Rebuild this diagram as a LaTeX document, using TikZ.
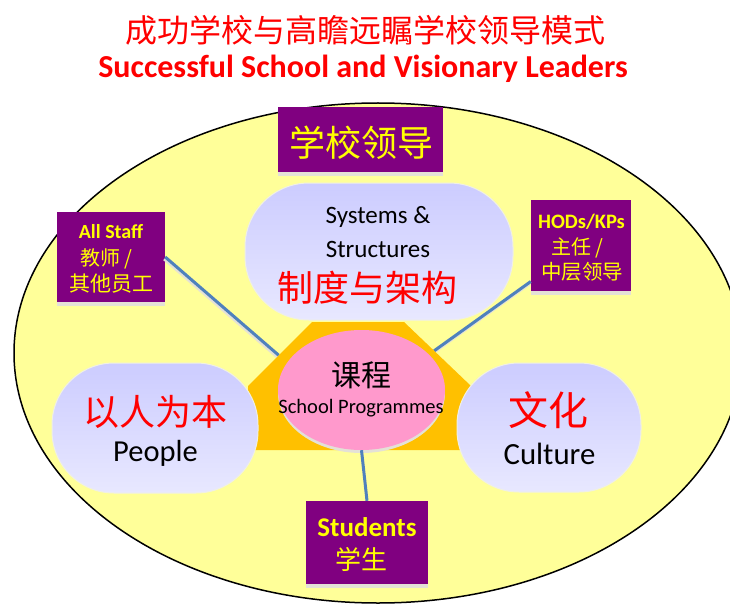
\documentclass[tikz,border=0pt]{standalone}
\usepackage{fontspec}
\setmainfont{Carlito}
\newfontfamily\cjk{Noto Sans CJK SC}
\usetikzlibrary{shapes.geometric,calc,shadows}

\definecolor{titlered}{HTML}{FF0000}
\definecolor{outeryellow}{HTML}{FFFF99}
\definecolor{leadpurple}{HTML}{800080}
\definecolor{labelyellow}{HTML}{FFFF00}
\definecolor{lavtop}{HTML}{CCCCFF}
\definecolor{lavbot}{HTML}{E8E8FF}
\definecolor{lavedge}{HTML}{F0F0E4}
\definecolor{coreorange}{HTML}{FFC000}
\definecolor{corepink}{HTML}{FF99CC}
\definecolor{linkblue}{HTML}{4F81BD}
\definecolor{softshadow}{HTML}{E4E1D6}

\tikzset{
  purplebox/.style={fill=leadpurple, inner sep=0pt,
    drop shadow={shadow xshift=0pt, shadow yshift=-4pt, fill=softshadow, opacity=1}},
  lavbox/.style={top color=lavtop, bottom color=lavbot, draw=lavedge,
    line width=1pt, inner sep=0pt},
  txt/.style={inner sep=0pt, anchor=base},
  link/.style={draw=linkblue, line width=3pt},
  linkshade/.style={draw=softshadow, line width=3pt},
}

\begin{document}
\begin{tikzpicture}[x=1pt, y=-1pt]
  \useasboundingbox (0,0) rectangle (730,604);
  \fill[white] (0,0) rectangle (730,604);
  \clip (0,0) rectangle (730,604);

  % titles
  \node[txt, text=titlered, font=\cjk\fontsize{32}{36}\selectfont] (title) at (365,43)
    {成功学校与高瞻远瞩学校领导模式};
  \node[txt, text=titlered, font=\bfseries\fontsize{32}{36}\selectfont] (subtitle) at (363,78)
    {Successful School and Visionary Leaders};

  % outer ellipse
  \draw[fill=outeryellow, line width=1.5pt] (378,353) ellipse [x radius=364, y radius=250];

  % outer label boxes
  \node[purplebox, minimum width=165pt, minimum height=65pt] (lead) at (360.5,139.5) {};
  \node[purplebox, minimum width=108pt, minimum height=90pt] (staff) at (111,257) {};
  \node[purplebox, minimum width=100pt, minimum height=91pt] (hod) at (581,245.5) {};
  \node[purplebox, minimum width=122pt, minimum height=83pt] (students) at (367,542.5) {};

  % core shape corners
  \coordinate (oTL) at (312,322);
  \coordinate (oTR) at (404,322);
  \coordinate (oR)  at (471,386);
  \coordinate (oBR) at (471,450);
  \coordinate (oBL) at (248,450);
  \coordinate (oL)  at (248,386);
  \coordinate (staffend) at ($(oTL)!0.52!(oL)$);
  \coordinate (hodend) at ($(oTR)!0.45!(oR)$);

  % connectors
  \draw[linkshade] ([shift={(-1,2)}]staff.east) -- ([shift={(-1,2)}]staffend);
  \draw[link] (staff.east) -- (staffend);
  \draw[linkshade] ([shift={(-1,2)}]hodend) -- ($(hod.west)+(-1,38)$);
  \draw[link] (hod) -- (hodend);

  % core
  \fill[coreorange] (oTL) -- (oTR) -- (oR) -- (oBR) -- (oBL) -- (oL) -- cycle;
  \fill[softshadow] (361.5,393) ellipse [x radius=83.5, y radius=60];
  \node[ellipse, fill=corepink, inner sep=0pt, minimum width=167pt, minimum height=120pt] (prog) at (361.5,390) {};
  \draw[link] (prog.south) -- (students.north);

  % the three pillars
  \node[lavbox, rounded corners=64pt, minimum width=268pt, minimum height=137pt] (sys) at (379,251.5) {};
  \node[lavbox, rounded corners=62pt, minimum width=206pt, minimum height=130pt] (people) at (155,428) {};
  \node[lavbox, rounded corners=62pt, minimum width=184pt, minimum height=129pt] (culture) at (549,427.5) {};

  % texts
  \node[txt, text=labelyellow, font=\cjk\fontsize{36}{40}\selectfont] (leadtxt) at (361,157) {学校领导};

  \node[txt, font=\fontsize{25}{28}\selectfont] (systxt) at (378,223) {Systems \&};
  \node[txt, font=\fontsize{25}{28}\selectfont] (structxt) at (378,257) {Structures};
  \node[txt, text=titlered, font=\cjk\fontsize{36}{40}\selectfont] (syscn) at (367,301) {制度与架构};

  \node[txt, font=\cjk\fontsize{30}{34}\selectfont] (progcn) at (361,386) {课程};
  \node[txt, font=\fontsize{20.5}{24}\selectfont] (progtxt) at (361,413) {School Programmes};

  \node[txt, text=titlered, font=\cjk\fontsize{36}{40}\selectfont] (peoplecn) at (155,425) {以人为本};
  \node[txt, font=\fontsize{30.5}{34}\selectfont] (peopletxt) at (155.5,461) {People};

  \node[txt, text=titlered, font=\cjk\fontsize{40}{44}\selectfont] (culturecn) at (548.5,425.7) {文化};
  \node[txt, font=\fontsize{30.8}{34}\selectfont] (culturetxt) at (549.5,464) {Culture};

  \node[txt, text=labelyellow, font=\bfseries\fontsize{20}{22}\selectfont] (stafftxt) at (111,238) {All Staff};
  \node[txt, text=labelyellow, font=\cjk\fontsize{20}{22}\selectfont] (staffcn1) at (106.5,265) {教师 /};
  \node[txt, text=labelyellow, font=\cjk\fontsize{21}{23}\selectfont] (staffcn2) at (111,291.5) {其他员工};

  \node[txt, text=labelyellow, font=\bfseries\fontsize{20.5}{23}\selectfont] (hodtxt) at (581.5,228) {HODs/KPs};
  \node[txt, text=labelyellow, font=\cjk\fontsize{20}{22}\selectfont] (hodcn1) at (577.5,254) {主任 /};
  \node[txt, text=labelyellow, font=\cjk\fontsize{20.5}{23}\selectfont] (hodcn2) at (582,279) {中层领导};

  \node[txt, text=labelyellow, font=\bfseries\fontsize{27}{30}\selectfont] (studtxt) at (367,536) {Students};
  \node[txt, text=labelyellow, font=\cjk\fontsize{26}{28}\selectfont] (studcn) at (361,569.5) {学生};
\end{tikzpicture}
\end{document}
